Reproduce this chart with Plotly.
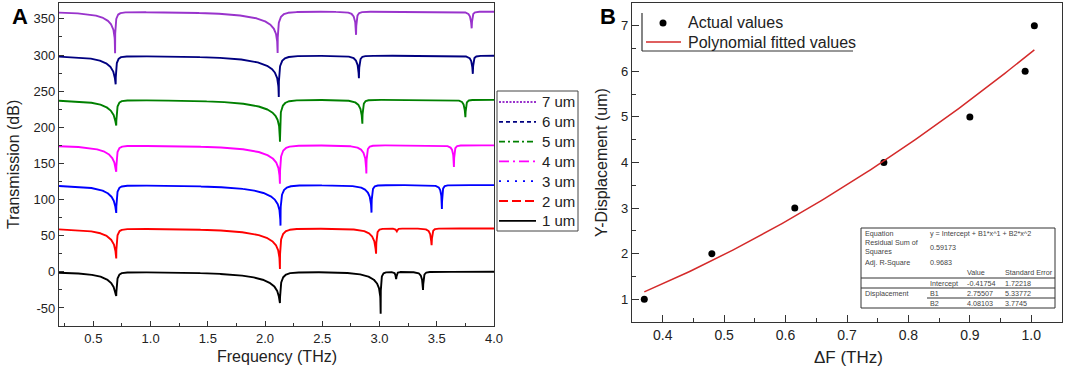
import numpy as np
import plotly.graph_objects as go

# ---------------- Panel A data ----------------
series_labels = ["1 um", "2 um", "3 um", "4 um", "5 um", "6 um", "7 um"]
baseline_db = [0, 60, 120, 175, 238, 299, 360]
dip1_freq = [0.70, 0.70, 0.70, 0.70, 0.70, 0.695, 0.69]
dip1_min = [-33, 19, 82, 139, 203, 260, 303]
dip2_freq = [2.13, 2.13, 2.135, 2.13, 2.13, 2.12, 2.11]
dip2_min = [-43, 4, 64, 122, 180, 242, 303]
dip3_freq = [3.01, 2.97, 2.93, 2.885, 2.85, 2.82, 2.795]
dip3_min = [-58, 25, 82, 136, 205, 268, 328]
dip3_left_width = [0.20, 0.12, 0.10, 0.08, 0.07, 0.05, 0.04]
dip4_freq = [3.38, 3.455, 3.545, 3.65, 3.75, 3.815, 3.805]
dip4_min = [-25, 37, 87, 145, 214, 274, 337]
small_dip_freq = [3.145, 3.15, None, None, None, None, None]
small_dip_min = [-10, 56, None, None, None, None, None]

freq_ticks = [0.5, 1.0, 1.5, 2.0, 2.5, 3.0, 3.5, 4.0]
trans_ticks = [-50, 0, 50, 100, 150, 200, 250, 300, 350]

# ---------------- Panel B data ----------------
delta_f = [0.37, 0.48, 0.615, 0.76, 0.90, 0.99, 1.005]
y_disp = [1, 2, 3, 4, 5, 6, 7]
fit_intercept, fit_b1, fit_b2 = -0.41754, 2.75507, 4.08103
legend_b_labels = ["Actual values", "Polynomial fitted values"]

table_rows = [
    ("Equation", "y = Intercept + B1*x^1 + B2*x^2", "", ""),
    ("Residual Sum of<br>Squares", "0.59173", "", ""),
    ("Adj. R-Square", "0.9683", "", ""),
    ("", "", "Value", "Standard Error"),
    ("", "Intercept", "-0.41754", "1.72218"),
    ("Displacement", "B1", "2.75507", "5.33772"),
    ("", "B2", "4.08103", "3.7745"),
]

colors = ["#000000", "#FF0000", "#0000FF", "#FF00FF", "#008000", "#000080", "#9933CC"]
dashes = ["solid", "9px,4px", "2px,6px", "10px,4px,2px,4px", "6px,3px,2px,3px", "4px,3px", "2px,1.5px"]

W, H = 1065, 372
def px(x):
    return x / W
def py(y):
    return 1 - y / H

def dip_db(f, f0, depth, gl, gr):
    d = f - f0
    g = np.where(d < 0, gl, gr)
    eps = g ** 2 * 10 ** (-depth / 10.0)
    return 10 * np.log10((d ** 2 + eps) / (d ** 2 + g ** 2))

fig = go.Figure()

centers = [c for lst in (dip1_freq, dip2_freq, dip3_freq, dip4_freq) for c in lst]
centers += [c for c in small_dip_freq if c is not None]
f = np.union1d(np.linspace(0.2, 4.0, 3801), np.array(centers))

for i in range(7):
    b = baseline_db[i]
    y = np.full_like(f, float(b))
    y += dip_db(f, dip1_freq[i], b - dip1_min[i], 0.25, 0.03)
    y += dip_db(f, dip2_freq[i], b - dip2_min[i], 0.5, 0.06)
    y += dip_db(f, dip3_freq[i], b - dip3_min[i], dip3_left_width[i], 0.02)
    y += dip_db(f, dip4_freq[i], b - dip4_min[i], 0.03, 0.015)
    if small_dip_freq[i] is not None:
        y += dip_db(f, small_dip_freq[i], b - small_dip_min[i], 0.01, 0.008)
    fig.add_trace(go.Scatter(x=f, y=y, mode="lines", line=dict(color=colors[i], width=1.9),
                             name=series_labels[i], showlegend=False, xaxis="x", yaxis="y",
                             hoverinfo="skip"))

# Panel B
fig.add_trace(go.Scatter(x=delta_f, y=y_disp, mode="markers", name=legend_b_labels[0],
                         marker=dict(color="black", size=7), xaxis="x2", yaxis="y2", showlegend=False))
fit_x = np.linspace(min(delta_f), max(delta_f), 120)
fit_y = fit_intercept + fit_b1 * fit_x + fit_b2 * fit_x ** 2
fig.add_trace(go.Scatter(x=fit_x, y=fit_y, mode="lines", name=legend_b_labels[1],
                         line=dict(color="#D42A2A", width=1.5), xaxis="x2", yaxis="y2", showlegend=False))

font_family = "Liberation Sans, Arial, sans-serif"
axis_common = dict(showline=True, linecolor="#333333", linewidth=1.3, mirror=True,
                   showgrid=False, zeroline=False, ticks="inside", tickcolor="#333333",
                   automargin=False)

fig.update_layout(
    width=W, height=H,
    margin=dict(l=0, r=0, t=0, b=0),
    paper_bgcolor="white", plot_bgcolor="white",
    showlegend=False,
    font=dict(family=font_family, color="#222222", size=13),
    xaxis=dict(domain=[px(59), px(494)], range=[0.2, 4.0], tickvals=freq_ticks,
               ticktext=[f"{v:.1f}" for v in freq_ticks], ticklen=5, tickwidth=1.2,
               minor=dict(dtick=0.25, tick0=0, ticks="inside", ticklen=3, tickcolor="#333333"),
               anchor="y", tickfont=dict(size=13), **axis_common),
    yaxis=dict(domain=[py(326), py(3)], range=[-75, 372], tickvals=trans_ticks,
               ticktext=[str(v) for v in trans_ticks], ticklen=5, tickwidth=1.2,
               minor=dict(dtick=25, tick0=0, ticks="inside", ticklen=3, tickcolor="#333333"),
               anchor="x", tickfont=dict(size=13), **axis_common),
    xaxis2=dict(domain=[px(632), px(1062)], range=[0.35, 1.05], dtick=0.1, tick0=0.4,
                tickformat=".1f", ticklen=7, tickwidth=1.2,
                minor=dict(dtick=0.05, tick0=0.35, ticks="inside", ticklen=4, tickcolor="#333333"),
                anchor="y2", tickfont=dict(size=14), **axis_common),
    yaxis2=dict(domain=[py(322), py(3)], range=[0.5, 7.5], dtick=1, tick0=1, ticklen=7, tickwidth=1.2,
                minor=dict(dtick=0.5, tick0=0.5, ticks="inside", ticklen=4, tickcolor="#333333"),
                anchor="x2", tickfont=dict(size=13), **axis_common),
)

ann = []
shapes = []

def text(t, x, y, size, xanchor="center", angle=0, color=None, bold=False):
    d = dict(text=(f"<b>{t}</b>" if bold else t), x=px(x), y=py(y), xanchor=xanchor, yanchor="middle",
             showarrow=False, textangle=angle, font=dict(size=size), align="left")
    if color:
        d["font"]["color"] = color
    ann.append(d)

text("A", 20, 17, 22, bold=True, color="black")
text("B", 608, 17, 22, bold=True, color="black")
text("Frequency (THz)", 277, 356, 16)
text("Transmission (dB)", 13, 165, 16, angle=-90)
text("ΔF (THz)", 848, 357, 17)
text("Y-Displacement (um)", 601, 163, 16, angle=-90)

# ---- legend of panel A (drawn as a boxed key) ----
shapes.append(dict(type="rect", x0=px(497), x1=px(578), y0=py(231), y1=py(91),
                   line=dict(color="#444444", width=1), fillcolor="white"))
for k, i in enumerate(range(6, -1, -1)):
    yk = 102 + k * 19.8
    shapes.append(dict(type="line", x0=px(499), x1=px(536), y0=py(yk), y1=py(yk),
                       line=dict(color=colors[i], width=1.8, dash=dashes[i])))
    text(series_labels[i], 540, yk, 15, xanchor="left")

# ---- legend of panel B ----
shapes.append(dict(type="circle", x0=px(659.5), x1=px(666.5), y0=py(26.5), y1=py(19.5),
                   fillcolor="black", line=dict(color="black", width=0)))
text(legend_b_labels[0], 686, 23, 16, xanchor="left")
shapes.append(dict(type="line", x0=px(646), x1=px(681), y0=py(42), y1=py(42),
                   line=dict(color="#D42A2A", width=1.5)))
text(legend_b_labels[1], 686, 42, 16, xanchor="left")
shapes.append(dict(type="line", x0=px(642), x1=px(642), y0=py(13), y1=py(51), line=dict(color="#333333", width=1.2)))
shapes.append(dict(type="line", x0=px(642), x1=px(853), y0=py(51), y1=py(51), line=dict(color="#333333", width=1.2)))

# ---- fit table ----
col_x = [863, 928, 965, 1003]
row_y = [233, 247, 262, 272, 283, 293, 303]
for r, row in enumerate(table_rows):
    for c, txt in enumerate(row):
        if txt:
            ann.append(dict(text=txt, x=px(col_x[c]), y=py(row_y[r]), xanchor="left", yanchor="middle",
                            showarrow=False, font=dict(size=7.2, color="#444444"), align="left"))
line_style = dict(color="#333333", width=1)
shapes.append(dict(type="rect", x0=px(861), x1=px(1055), y0=py(308), y1=py(228), line=line_style,
                   fillcolor="white", layer="below"))
shapes.append(dict(type="line", x0=px(861), x1=px(1055), y0=py(278), y1=py(278), line=line_style))
shapes.append(dict(type="line", x0=px(861), x1=px(1055), y0=py(288), y1=py(288), line=line_style))
shapes.append(dict(type="line", x0=px(927), x1=px(1055), y0=py(298), y1=py(298), line=line_style))

for a in ann:
    a["xref"] = "paper"
    a["yref"] = "paper"
for s in shapes:
    s["xref"] = "paper"
    s["yref"] = "paper"
fig.update_layout(annotations=ann, shapes=shapes)

fig.write_html("out.html", config={"displayModeBar": False},
               post_script="document.body.style.margin='0';")
